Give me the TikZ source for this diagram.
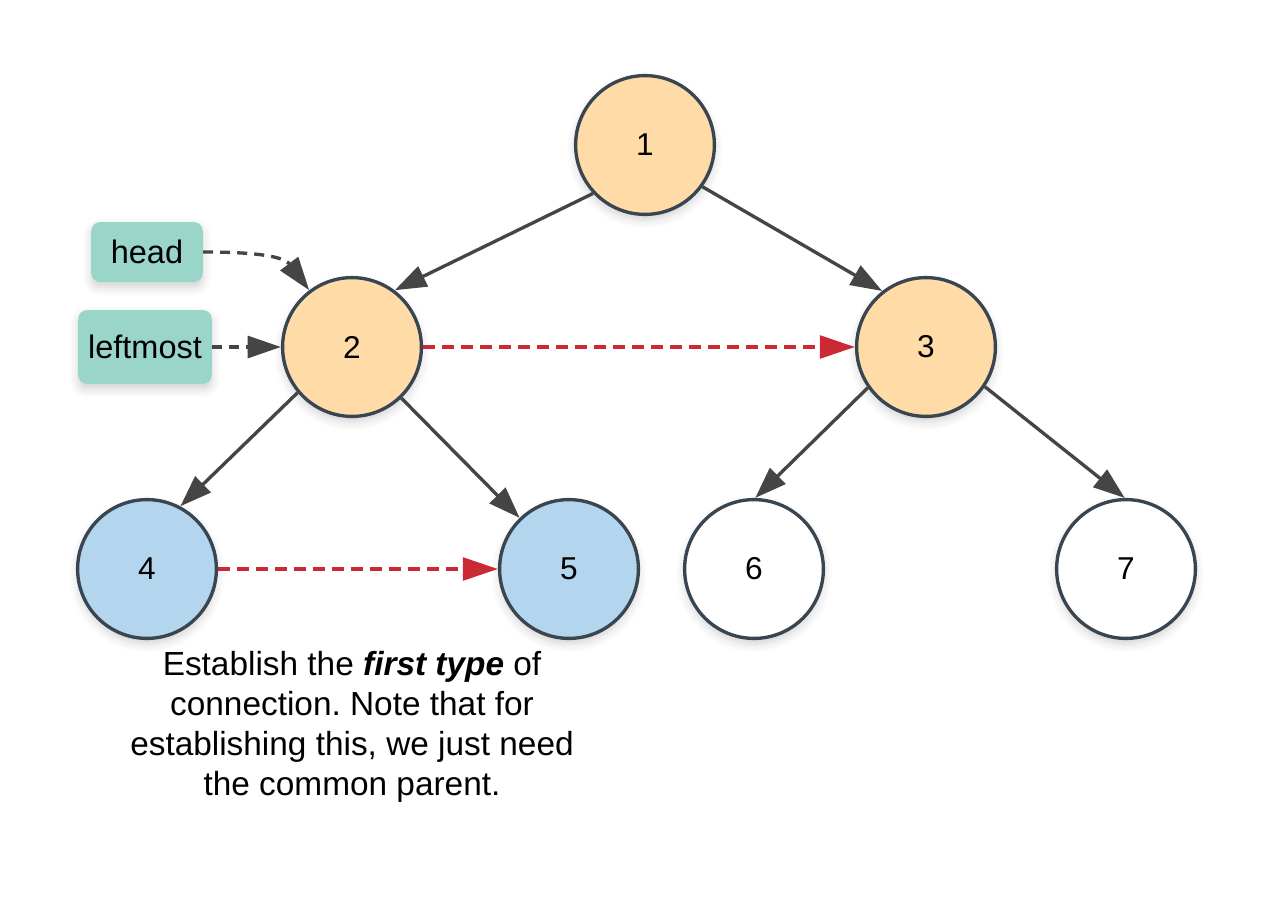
\documentclass[tikz,border=0pt]{standalone}
\usepackage{fontspec}
\setmainfont{Liberation Sans}
\usetikzlibrary{arrows.meta,shadows.blur}
\frenchspacing

\definecolor{peach}{HTML}{FFDBA8}
\definecolor{skyblue}{HTML}{B3D6EE}
\definecolor{mint}{HTML}{9AD5CA}
\definecolor{rim}{HTML}{3A4552}
\definecolor{edgegray}{HTML}{454545}
\definecolor{linkred}{HTML}{CC2936}

\tikzset{
  softshadow/.style={blur shadow={shadow xshift=0pt,shadow yshift=-3pt,shadow blur radius=5pt,shadow opacity=18}},
  treenode/.style={circle,draw=rim,line width=1.9pt,minimum size=79pt,inner sep=0pt,softshadow,font=\fontsize{18}{18}\selectfont},
  tag/.style={rounded corners=5pt,fill=mint,inner sep=0pt,softshadow,font=\fontsize{18.5}{18.5}\selectfont},
  child/.style={draw=edgegray,line width=1.9pt,-{Triangle[length=18pt,width=12.5pt]}},
  pointer/.style={draw=edgegray,line width=1.9pt,dash pattern=on 5.7pt off 4pt,-{Triangle[length=19pt,width=12.5pt]}},
  sibling/.style={draw=linkred,line width=1.9pt,dash pattern=on 6.8pt off 4pt,-{Triangle[length=20pt,width=13pt,fill=linkred]}}
}

\begin{document}
\begin{tikzpicture}[x=0.02cm,y=-0.02cm]
        \useasboundingbox (0,0) rectangle (1274,896);

        % 木の節点
        \node[treenode,fill=peach] (n1) at (645,145) {1};
        \node[treenode,fill=peach] (n2) at (352,347) {2};
        \node[treenode,fill=peach] (n3) at (926,347) {3};
        \node[treenode,fill=skyblue] (n4) at (147,569) {4};
        \node[treenode,fill=skyblue] (n5) at (569,569) {5};
        \node[treenode,fill=white] (n6) at (754,569) {6};
        \node[treenode,fill=white] (n7) at (1126,569) {7};

        % 親から子へ
        \draw[child] (n1.223) -- (n2.53);
        \draw[child] (n1.324) -- (n3.128);
        \draw[child] (n2.220) -- (n4.62);
        \draw[child] (n2.314) -- (n5.134);
        \draw[child] (n3.215) -- (n6.89);
        \draw[child] (n3.326) -- (n7.91);

        % ポインタ
        \node[tag,minimum width=63.5pt,minimum height=34pt] (head) at (147,252) {head};
        \node[tag,minimum width=76pt,minimum height=42pt] (leftmost) at (145,347) {leftmost};
        \draw[pointer] (head.east) to[out=0,in=127] (n2);
        \draw[pointer] (leftmost.east) -- (n2);

        % 横のつながり
        \draw[sibling] (n2) -- (n3);
        \draw[sibling] (n4) -- (n5);

        % 説明
        \node[align=center,font=\fontsize{19}{22.7}\selectfont] (note) at (352,727)
          {Establish the \textbf{\textit{first type}} of\\
           connection. Note that for\\
           establishing this, we just need\\
           the common parent.};
\end{tikzpicture}
\end{document}
